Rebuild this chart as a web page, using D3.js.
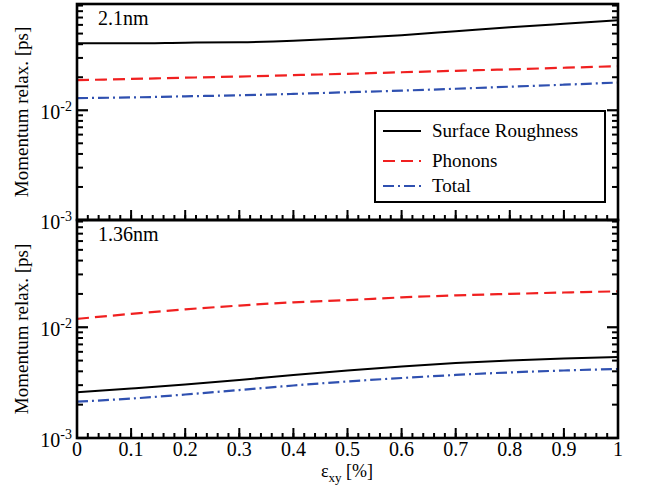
<!DOCTYPE html>
<html><head><meta charset="utf-8">
<script src="https://cdn.jsdelivr.net/npm/d3@7"></script>
<style>body{margin:0;background:#fff} svg text{font-family:'Liberation Serif','Tinos','Times New Roman','DejaVu Serif',serif}</style>
</head><body><svg id="c" width="650" height="499"></svg>
<script>
const strain = [0,0.1,0.2,0.3,0.4,0.5,0.6,0.7,0.8,0.9,1.0];
// Panel 2.1nm
const sr21 = [0.0408,0.0408,0.0413,0.0417,0.0430,0.0453,0.0483,0.0525,0.0571,0.0615,0.0661];
const ph21 = [0.0188,0.0193,0.0198,0.0203,0.0209,0.0215,0.0222,0.0229,0.0236,0.0244,0.0252];
const tot21 = [0.0129,0.0131,0.0134,0.0137,0.0141,0.0146,0.0151,0.0157,0.0164,0.0171,0.0179];
// Panel 1.36nm
const sr136 = [0.00259,0.00280,0.00304,0.00334,0.00371,0.00407,0.00443,0.00476,0.00501,0.00522,0.00539];
const ph136 = [0.0119,0.0132,0.0145,0.0157,0.0168,0.0176,0.0186,0.0194,0.0200,0.0206,0.0211];
const tot136 = [0.00213,0.00227,0.00247,0.00271,0.00298,0.00324,0.00348,0.00371,0.00391,0.00407,0.00420];
const xTicks = [0,0.1,0.2,0.3,0.4,0.5,0.6,0.7,0.8,0.9,1];
const yMajor = [1e-3,1e-2];
const yExp = ["-3","-2"];
const seriesNames = ["Surface Roughness","Phonons","Total"];
const panelLabels = ["2.1nm","1.36nm"];
const yTitle = "Momentum relax. [ps]";
const yDomain = [1e-3, 0.093];

const svg = d3.select("#c");
const L = 77, R = 618;
const x = d3.scaleLinear().domain([0,1]).range([L,R]);
const styles = [
  {color:"#000", dash:null, w:2},
  {color:"#f02020", dash:"12,6", w:2.2},
  {color:"#2f50b0", dash:"11,4,2,4", w:2.2}
];
const panels = [
  {top:4, bottom:220, data:[sr21,ph21,tot21], label:panelLabels[0]},
  {top:220, bottom:438, data:[sr136,ph136,tot136], label:panelLabels[1]}
];
const minorX = d3.range(0,1.0001,0.02);
panels.forEach((p,pi)=>{
  const y = d3.scaleLog().domain(yDomain).range([p.bottom,p.top]);
  const g = svg.append("g");
  const line = d3.line().x((d,i)=>x(strain[i])).y(d=>y(d)).curve(d3.curveMonotoneX);
  p.data.forEach((s,si)=>{
    g.append("path").datum(s).attr("d",line).attr("fill","none")
      .attr("stroke",styles[si].color).attr("stroke-width",styles[si].w)
      .attr("stroke-dasharray",styles[si].dash);
  });
  const minors = [];
  for (let e=-3;e<=-2;e++) for (let m=2;m<=9;m++){const v=m*Math.pow(10,e); if(v<=yDomain[1]) minors.push(v);}
  minors.forEach(v=>{
    g.append("line").attr("x1",L).attr("x2",L+6).attr("y1",y(v)).attr("y2",y(v)).attr("stroke","#000").attr("stroke-width",2);
    g.append("line").attr("x1",R).attr("x2",R-6).attr("y1",y(v)).attr("y2",y(v)).attr("stroke","#000").attr("stroke-width",2);
  });
  yMajor.forEach((v,i)=>{
    g.append("line").attr("x1",L).attr("x2",L+11).attr("y1",y(v)).attr("y2",y(v)).attr("stroke","#000").attr("stroke-width",2.2);
    g.append("line").attr("x1",R).attr("x2",R-11).attr("y1",y(v)).attr("y2",y(v)).attr("stroke","#000").attr("stroke-width",2.2);
    const t = g.append("text").attr("x",72).attr("y",y(v)+9).attr("text-anchor","end").attr("font-size",20);
    t.append("tspan").text("10");
    t.append("tspan").attr("font-size",14).attr("dy",-8).text(yExp[i]);
  });
  minorX.forEach(v=>{
    g.append("line").attr("x1",x(v)).attr("x2",x(v)).attr("y1",p.bottom).attr("y2",p.bottom-5).attr("stroke","#000").attr("stroke-width",2);
  });
  xTicks.forEach(v=>{
    g.append("line").attr("x1",x(v)).attr("x2",x(v)).attr("y1",p.bottom).attr("y2",p.bottom-10).attr("stroke","#000").attr("stroke-width",2);
  });
  g.append("rect").attr("x",L).attr("y",p.top).attr("width",R-L).attr("height",p.bottom-p.top)
    .attr("fill","none").attr("stroke","#000").attr("stroke-width",2.6);
  g.append("text").attr("x",98).attr("y",p.top+21).attr("font-size",20).text(p.label);
  g.append("text").attr("transform",`translate(28,${(p.top+p.bottom)/2}) rotate(-90)`)
    .attr("text-anchor","middle").attr("font-size",19).text(yTitle);
});
xTicks.forEach(v=>{
  svg.append("text").attr("x",x(v)).attr("y",456).attr("text-anchor","middle").attr("font-size",20).text(d3.format("")(v));
});
const xt = svg.append("text").attr("x",347).attr("y",477).attr("text-anchor","middle").attr("font-size",18);
xt.append("tspan").text("ε");
xt.append("tspan").attr("font-size",13).attr("dy",5).text("xy");
xt.append("tspan").attr("dy",-5).text(" [%]");
const lg = svg.append("g");
lg.append("rect").attr("x",375).attr("y",111).attr("width",230).attr("height",91).attr("fill","#fff").attr("stroke","#000").attr("stroke-width",2);
const ly = [131,161,186];
seriesNames.forEach((n,i)=>{
  lg.append("line").attr("x1",383).attr("x2",421).attr("y1",ly[i]).attr("y2",ly[i])
    .attr("stroke",styles[i].color).attr("stroke-width",2.2).attr("stroke-dasharray",styles[i].dash);
  lg.append("text").attr("x",432).attr("y",ly[i]+6).attr("font-size",19).text(n);
});
</script></body></html>
